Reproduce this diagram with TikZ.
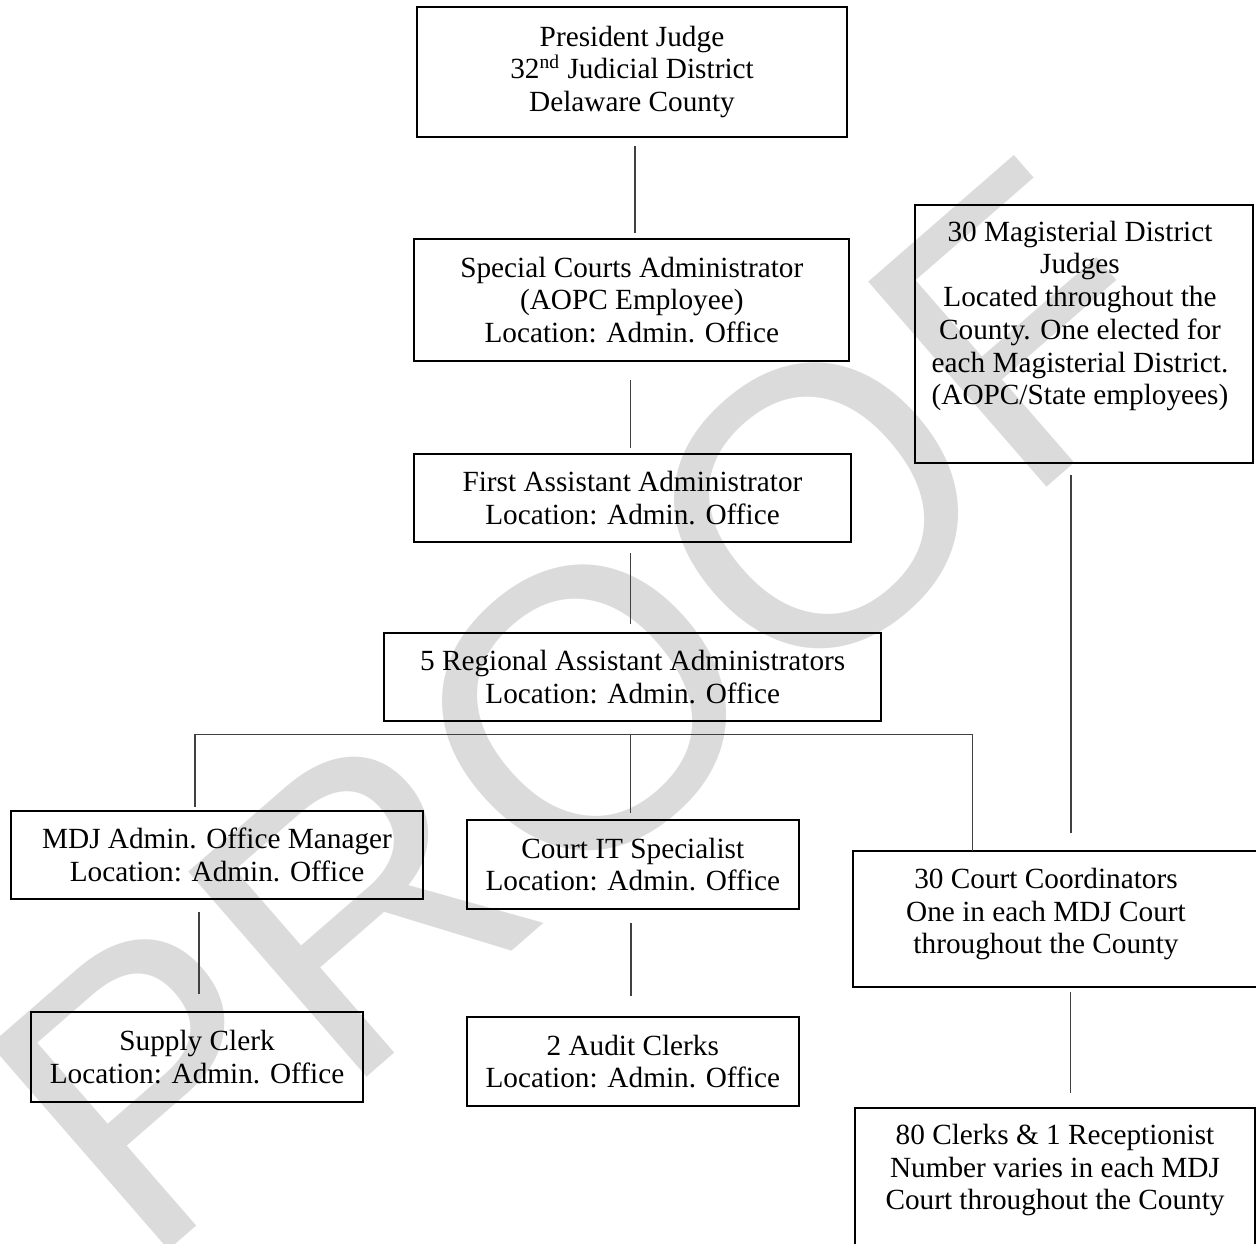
\documentclass[tikz,border=0pt]{standalone}
\usepackage{fontspec}
\setmainfont{Liberation Serif}
\newfontfamily\wmfont{Liberation Sans}
\def\PX{0.41pt}
\begin{document}
\begin{tikzpicture}[x=0.41pt, y=-0.41pt,
  box/.style={draw=black, line width=0.8pt, inner sep=0pt, outer sep=0pt, align=center,
    font=\fontsize{12}{13.4}\selectfont},
  conn/.style={draw=black!75, line width=0.55pt},
  txt/.style={align=center, inner sep=0pt, font=\fontsize{12}{13.4}\selectfont}]
\clip (0,0) rectangle (1256,1243);
% watermark
\node[rotate=41, text=black!14, inner sep=0pt, font=\wmfont\fontsize{162}{162}\selectfont] (wm) at (585,708) {PROOF};
% boxes
\node[box, minimum width=430.6*\PX, minimum height=130*\PX] (pj) at (632,71.7)
  {President Judge\\32\textsuperscript{nd} Judicial District\\Delaware County};
\node[box, minimum width=435*\PX, minimum height=122*\PX] (sca) at (631.8,300)
  {Special Courts Administrator\\(AOPC Employee)\\Location: Admin. Office};
\node[box, minimum width=437*\PX, minimum height=88*\PX] (faa) at (632.5,498)
  {First Assistant Administrator\\Location: Admin. Office};
\node[box, minimum width=496.7*\PX, minimum height=88.3*\PX] (raa) at (632.7,677)
  {5 Regional Assistant Administrators\\Location: Admin. Office};
\node[box, minimum width=412.6*\PX, minimum height=88.3*\PX] (mdj) at (217,855)
  {MDJ Admin. Office Manager\\Location: Admin. Office};
\node[box, minimum width=332.3*\PX, minimum height=88.4*\PX] (cit) at (632.8,864.5)
  {Court IT Specialist\\Location: Admin. Office};
\node[box, minimum width=332.6*\PX, minimum height=89.4*\PX] (sup) at (197,1057)
  {Supply Clerk\\Location: Admin. Office};
\node[box, minimum width=332.3*\PX, minimum height=89*\PX] (aud) at (632.8,1061.5)
  {2 Audit Clerks\\Location: Admin. Office};
\node[box, minimum width=338*\PX, minimum height=258.3*\PX,
  label={[txt, xshift=-4*\PX, yshift=18*\PX]center:{30 Magisterial District\\Judges\\Located throughout the\\County. One elected for\\each Magisterial District.\\(AOPC/State employees)}}]
  (mag) at (1084,334) {};
\node[box, minimum width=409*\PX, minimum height=136*\PX,
  label={[txt, xshift=-11.5*\PX, yshift=4.7*\PX]center:{30 Court Coordinators\\One in each MDJ Court\\throughout the County}}]
  (ccs) at (1057.5,918.7) {};
\node[box, minimum width=400*\PX, minimum height=152*\PX,
  label={[txt, yshift=14*\PX]center:{80 Clerks \& 1 Receptionist\\Number varies in each MDJ\\Court throughout the County}}]
  (clk) at (1055,1184) {};
% connectors
\draw[conn, shorten <=9.3*\PX, shorten >=6.3*\PX] ([xshift=3*\PX]pj.south) -- ([xshift=3*\PX]pj.south |- sca.north);
\draw[conn, shorten <=19*\PX, shorten >=6*\PX] ([xshift=-1*\PX]sca.south) -- ([xshift=-1*\PX]sca.south |- faa.north);
\draw[conn, shorten <=11*\PX, shorten >=8.7*\PX] ([xshift=-1.8*\PX]faa.south) -- ([xshift=-1.8*\PX]faa.south |- raa.north);
\coordinate (busc) at ([xshift=-2*\PX, yshift=-13.5*\PX]raa.south);
\draw[conn, shorten <=4.3*\PX] ([xshift=-22*\PX]mdj.north) |- (busc) -| ([xshift=-85.2*\PX]ccs.north);
\draw[conn, shorten >=7.6*\PX] (busc) -- (busc |- cit.north);
\draw[conn, shorten <=12.4*\PX, shorten >=18*\PX] ([xshift=-18*\PX]mdj.south) -- ([xshift=-18*\PX]mdj.south |- sup.north);
\draw[conn, shorten <=14.3*\PX, shorten >=21*\PX] ([xshift=-1.8*\PX]cit.south) -- ([xshift=-1.8*\PX]cit.south |- aud.north);
\draw[conn, shorten <=11.7*\PX, shorten >=17.4*\PX] ([xshift=-13*\PX]mag.south) -- ([xshift=-13*\PX]mag.south |- ccs.north);
\draw[conn, shorten <=5*\PX, shorten >=15.3*\PX] ([xshift=13.2*\PX]ccs.south) -- ([xshift=13.2*\PX]ccs.south |- clk.north);
\end{tikzpicture}
\end{document}
